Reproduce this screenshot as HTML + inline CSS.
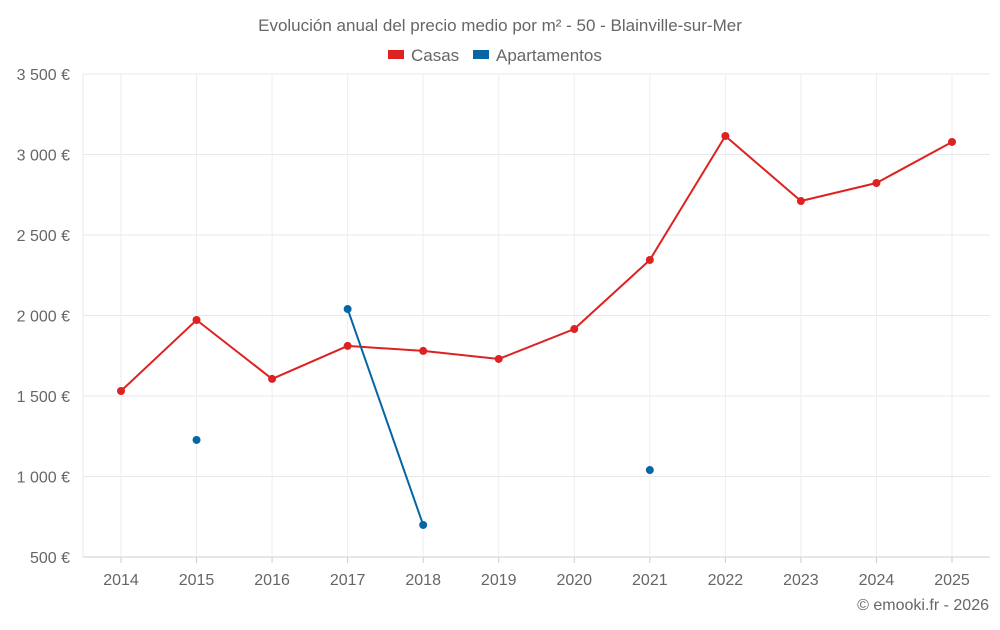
<!DOCTYPE html>
<html><head><meta charset="utf-8"><style>
body{margin:0;background:#fff;font-family:"Liberation Sans",sans-serif;}
</style></head><body>
<svg width="1000" height="625" xmlns="http://www.w3.org/2000/svg" id="svg">
<text x="500" y="31" text-anchor="middle" font-size="17" fill="#666">Evolución anual del precio medio por m² - 50 - Blainville-sur-Mer</text>
<g>
<g><rect x="388" y="50" width="16" height="9" fill="#dd2222"/><text x="411" y="61" font-size="17" fill="#666">Casas</text></g>
<g><rect x="473" y="50" width="16" height="9" fill="#0565a5"/><text x="496" y="61" font-size="17" fill="#666">Apartamentos</text></g>
</g>
<g id="grid"></g><g id="axes"></g><g id="marks"></g>
<text x="989" y="610" text-anchor="end" font-size="16" fill="#666">© emooki.fr - 2026</text>
</svg>
<script>
const years=[2014,2015,2016,2017,2018,2019,2020,2021,2022,2023,2024,2025];
const casas=[1531,1972,1606,1811,1780,1730,1916,2345,3115,2711,2823,3078];
const apartamentos=[null,1227,null,2040,699,null,null,1040,null,null,null,null];
const yTicks=[500,1000,1500,2000,2500,3000,3500];
const yLabels=["500 €","1 000 €","1 500 €","2 000 €","2 500 €","3 000 €","3 500 €"];
const NS="http://www.w3.org/2000/svg";
const L=83,R=990,T=74,B=557;
const x=i=>121+i*(952-121)/(years.length-1);
const y=v=>B-(v-500)/3000*(B-T);
function mk(tag,attrs,parent){const e=document.createElementNS(NS,tag);for(const k in attrs)e.setAttribute(k,attrs[k]);document.getElementById(parent).appendChild(e);return e;}
yTicks.forEach((t,i)=>{
 const g=mk('line',{x1:L,x2:R,y1:y(t),y2:y(t),stroke:i==0?'#ccc':'#e8e8e8','stroke-width':1},'grid');
 
 
 const tx=mk('text',{x:70,y:y(t)+6,'text-anchor':'end','font-size':16,fill:'#666'},'axes');tx.textContent=yLabels[i];
 
 
});
mk('line',{x1:L,x2:L,y1:T,y2:B,stroke:'#e8e8e8'},'grid');
years.forEach((yr,i)=>{
 const g=mk('line',{x1:x(i),x2:x(i),y1:T,y2:B,stroke:'#eee'},'grid');
 
 
 mk('line',{x1:x(i),x2:x(i),y1:B,y2:B+6,stroke:'#ccc'},'axes');
 const tx=mk('text',{x:x(i),y:585,'text-anchor':'middle','font-size':16,fill:'#666'},'axes');tx.textContent=yr;
 
 
});
function series(data,color,name){
 let segs=[],cur=[];
 data.forEach((v,i)=>{if(v==null){if(cur.length)segs.push(cur);cur=[];}else cur.push([x(i),y(v)]);});
 if(cur.length)segs.push(cur);
 segs.forEach(s=>{if(s.length>1){const p=mk('polyline',{points:s.map(q=>q.join(',')).join(' '),fill:'none',stroke:color,'stroke-width':2},'marks');
  
  }});
 data.forEach((v,i)=>{if(v!=null){const c=mk('circle',{cx:x(i),cy:y(v),r:4,fill:color},'marks');
  
  }});
}
series(casas,'#dd2222','casas');
series(apartamentos,'#0565a5','apartamentos');
</script>
</body></html>
